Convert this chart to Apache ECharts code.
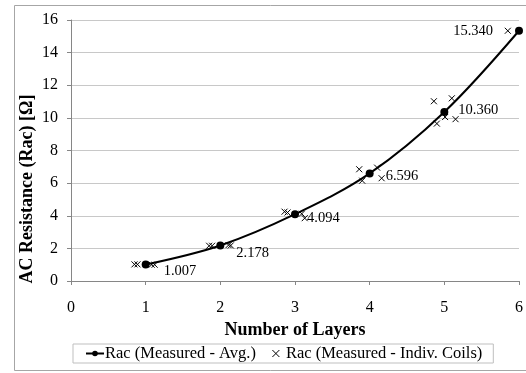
<!DOCTYPE html>
<html><head><meta charset="utf-8">
<script src="https://cdn.jsdelivr.net/npm/echarts@6/dist/echarts.min.js"></script>
<style>html,body{margin:0;padding:0;background:#fff}#c{width:526px;height:373px}</style>
</head><body><div id="c"></div>
<script>
const layers = [1, 2, 3, 4, 5, 6];
const avgRac = [1.007, 2.178, 4.094, 6.596, 10.360, 15.340];
const avgLabels = ['1.007', '2.178', '4.094', '6.596', '10.360', '15.340'];
const coilX = [0.85, 0.89, 1.08, 1.12, 1.85, 1.89, 2.11, 2.14, 2.86, 2.90, 3.09, 3.13, 3.86, 3.90, 4.10, 4.16, 4.86, 4.90, 5.01, 5.10, 5.15, 5.85];
const coilRac = [1.02, 1.02, 1.00, 1.00, 2.16, 2.16, 2.20, 2.18, 4.25, 4.20, 4.12, 3.85, 6.85, 6.15, 6.95, 6.30, 11.02, 9.65, 10.05, 11.20, 9.92, 15.34];
const xTicks = [0, 1, 2, 3, 4, 5, 6];
const yTicks = [0, 2, 4, 6, 8, 10, 12, 14, 16];
const seriesNames = ['Rac (Measured - Avg.)', 'Rac (Measured - Indiv. Coils)'];
const xTitle = 'Number of Layers';
const yTitle = 'AC Resistance (Rac) [Ω]';

// label placement (style, kept separately)
const labelPositions = ['right', 'right', 'right', 'right', 'right', 'left'];
const labelOffsets = [[9, 7], [7, 8], [3, 4], [7, 3], [5, -2], [-17, 0]];

const F = 'Liberation Serif';
const crossPath = 'path://M0,0L10,10M10,0L0,10';
const chart = echarts.init(document.getElementById('c'));
chart.setOption({
  animation: false,
  textStyle: {fontFamily: F},
  graphic: [
    {type: 'rect', shape: {x: 14.5, y: 5.5, width: 530, height: 365}, style: {fill: 'none', stroke: '#a6a6a6', lineWidth: 1}, z: -10},
    {type: 'text', x: 27, y: 189, rotation: Math.PI / 2,
     style: {text: yTitle, fontFamily: F, fontSize: 18, fontWeight: 'bold', fill: '#000', align: 'center', verticalAlign: 'middle'}}
  ],
  grid: {left: 71, right: 7, top: 20, bottom: 92},
  legend: {
    data: seriesNames.map((n, i) => i === 0 ? {name: n} : {name: n, icon: crossPath, itemStyle: {color: 'none', borderColor: '#000', borderWidth: 1}}),
    left: 73, top: 344,
    itemGap: 14, itemWidth: 18, itemHeight: 7,
    padding: [1, 11, 1, 12],
    borderColor: '#bfbfbf', borderWidth: 1,
    textStyle: {fontFamily: F, fontSize: 16.5, color: '#000', padding: [0, 0, 0, -4]}
  },
  xAxis: {
    type: 'value', min: 0, max: 6, interval: 1,
    name: xTitle, nameLocation: 'middle', nameGap: 39,
    nameTextStyle: {fontFamily: F, fontSize: 18, fontWeight: 'bold', color: '#000'},
    axisLine: {lineStyle: {color: '#868686'}},
    axisTick: {show: true, length: 4, inside: false, lineStyle: {color: '#868686'}},
    axisLabel: {fontFamily: F, fontSize: 16, color: '#000', margin: 19, formatter: v => xTicks.includes(v) ? String(v) : ''},
    splitLine: {show: false}
  },
  yAxis: {
    type: 'value', min: 0, max: 16, interval: 2,
    axisLine: {show: true, lineStyle: {color: '#868686'}},
    axisTick: {show: true, length: 4, lineStyle: {color: '#868686'}},
    axisLabel: {fontFamily: F, fontSize: 16, color: '#000', margin: 13, formatter: v => yTicks.includes(v) ? String(v) : ''},
    splitLine: {show: true, lineStyle: {color: '#c8c8c8'}}
  },
  series: [
    {
      name: seriesNames[0], type: 'line', smooth: 0.35,
      symbol: 'circle', symbolSize: 8,
      lineStyle: {color: '#000', width: 2}, itemStyle: {color: '#000'},
      data: layers.map((x, i) => ({value: [x, avgRac[i]], label: {show: true, position: labelPositions[i], offset: labelOffsets[i], formatter: avgLabels[i], fontFamily: F, fontSize: 14.5, color: '#000'}})),
      z: 3
    },
    {
      name: seriesNames[1], type: 'scatter',
      symbol: crossPath, symbolSize: 6,
      itemStyle: {color: 'none', borderColor: '#000', borderWidth: 1, opacity: 1},
      data: coilX.map((x, i) => [x, coilRac[i]]),
      z: 4
    }
  ]
});
</script></body></html>
